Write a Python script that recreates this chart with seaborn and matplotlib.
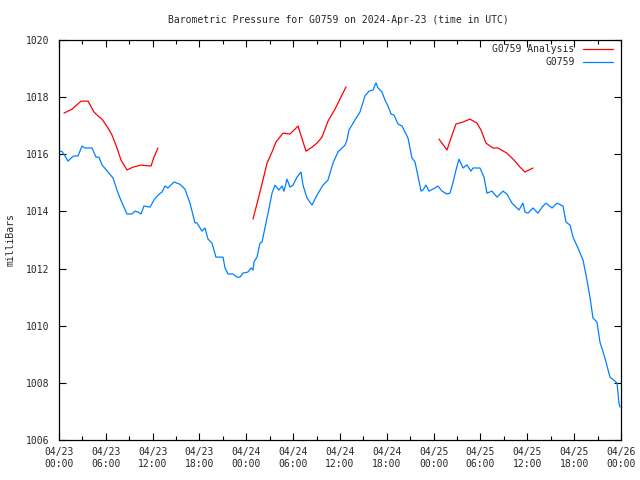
import pandas as pd
import matplotlib
matplotlib.use("Agg")
import matplotlib.pyplot as plt
import matplotlib.dates as mdates
import seaborn as sns

# Station observations (hours after 2024-04-23 00:00 UTC, pressure in mb)
obs_hours = [0.0, 0.38, 0.77, 1.15, 1.67, 1.92, 2.43, 2.95, 3.33, 4.23, 4.74, 5.12, 5.51,
             6.28, 6.92, 7.43, 7.81, 8.2, 8.71, 9.35, 9.74, 10.12, 10.5, 10.89, 11.66,
             12.17, 12.68, 13.2, 13.58, 13.96, 14.73, 15.5, 16.14, 16.78, 17.42, 17.68,
             18.32, 18.7, 19.09, 19.6, 20.11, 21.01, 21.27, 21.65, 22.29, 22.8, 23.19,
             23.57, 24.21, 24.6, 24.85, 25.0, 25.37, 25.75, 26.01, 26.52, 26.9, 27.29,
             27.67, 28.18, 28.57, 28.82, 29.21, 29.59, 29.98, 30.49, 31.0, 31.26, 31.77,
             32.41, 33.05, 33.82, 34.46, 35.1, 35.74, 36.64, 36.89, 37.15, 37.92, 38.56,
             39.2, 39.71, 40.23, 40.61, 40.87, 41.38, 41.76, 42.15, 42.53, 42.92, 43.43,
             43.94, 44.32, 44.71, 45.22, 45.61, 45.99, 46.38, 46.63, 47.02, 47.4, 48.17,
             48.55, 49.07, 49.71, 50.09, 50.47, 50.86, 51.24, 51.76, 52.27, 52.78, 53.04,
             53.93, 54.45, 54.83, 55.47, 56.11, 56.88, 57.39, 58.03, 58.55, 58.93, 59.44,
             59.7, 60.08, 60.72, 61.36, 61.88, 62.39, 63.16, 63.8, 64.57, 64.95, 65.47,
             65.85, 66.49, 67.13, 67.64, 68.02, 68.41, 68.92, 69.3, 69.94, 70.59, 71.23,
             71.49, 71.74, 71.87]
obs_mb = [1016.1, 1016.1, 1015.94, 1015.76, 1015.9, 1015.94, 1015.94, 1016.29, 1016.22,
          1016.22, 1015.9, 1015.9, 1015.63, 1015.38, 1015.17, 1014.75, 1014.47, 1014.22,
          1013.91, 1013.91, 1014.01, 1013.98, 1013.91, 1014.19, 1014.15, 1014.4, 1014.57,
          1014.68, 1014.89, 1014.82, 1015.03, 1014.95, 1014.78, 1014.29, 1013.6, 1013.6,
          1013.31, 1013.42, 1013.03, 1012.89, 1012.4, 1012.4, 1012.02, 1011.81, 1011.81,
          1011.7, 1011.7, 1011.84, 1011.88, 1012.02, 1011.95, 1012.25, 1012.4, 1012.89,
          1012.93, 1013.6, 1014.1, 1014.64, 1014.92, 1014.75, 1014.89, 1014.71, 1015.13,
          1014.85, 1014.92, 1015.2, 1015.38, 1014.92, 1014.47, 1014.22, 1014.57, 1014.92,
          1015.1, 1015.69, 1016.08, 1016.32, 1016.5, 1016.85, 1017.2, 1017.48, 1018.04,
          1018.21, 1018.25, 1018.5, 1018.32, 1018.18, 1017.9, 1017.69, 1017.41, 1017.37,
          1017.06, 1016.99, 1016.78, 1016.57, 1015.87, 1015.73, 1015.24, 1014.71, 1014.75,
          1014.92, 1014.71, 1014.82, 1014.89, 1014.71, 1014.61, 1014.64, 1015.0, 1015.45,
          1015.83, 1015.52, 1015.63, 1015.41, 1015.52, 1015.52, 1015.2, 1014.64, 1014.71,
          1014.5, 1014.71, 1014.61, 1014.29, 1014.15, 1014.05, 1014.29, 1013.98, 1013.94,
          1014.12, 1013.94, 1014.15, 1014.29, 1014.12, 1014.29, 1014.19, 1013.63, 1013.52,
          1013.1, 1012.72, 1012.3, 1011.6, 1011.0, 1010.27, 1010.13, 1009.43, 1008.87,
          1008.2, 1008.06, 1007.99, 1007.29, 1007.15]

# Analysis runs (three 12-hour windows)
ana_hours = [0.64, 1.67, 2.82, 3.72, 4.48, 5.0, 5.51, 6.28, 6.79, 7.43, 7.94, 8.71, 9.48,
             10.5, 11.79, 12.17, 12.68,
             24.85, 25.49, 26.13, 26.65, 27.29, 27.8, 28.7, 29.59, 30.23, 30.62, 31.64,
             32.41, 33.05, 33.69, 34.46, 35.36, 36.77,
             48.68, 49.71, 50.35, 50.86, 51.76, 52.65, 53.55, 54.06, 54.7, 55.6, 56.24,
             57.39, 58.42, 59.06, 59.7, 60.72]
ana_mb = [1017.44, 1017.58, 1017.86, 1017.86, 1017.48, 1017.34, 1017.23, 1016.92, 1016.67,
          1016.22, 1015.8, 1015.45, 1015.55, 1015.62, 1015.59, 1015.9, 1016.22,
          1013.73, 1014.4, 1015.1, 1015.69, 1016.08, 1016.43, 1016.74, 1016.71, 1016.88,
          1016.99, 1016.11, 1016.25, 1016.39, 1016.6, 1017.16, 1017.58, 1018.36,
          1016.53, 1016.15, 1016.67, 1017.06, 1017.13, 1017.23, 1017.09, 1016.85, 1016.39,
          1016.22, 1016.22, 1016.04, 1015.76, 1015.55, 1015.38, 1015.52]
ana_run = [1] * 17 + [2] * 17 + [3] * 16

start = pd.Timestamp("2024-04-23 00:00")
obs = pd.DataFrame({"time": start + pd.to_timedelta(obs_hours, unit="h"), "mb": obs_mb})
ana = pd.DataFrame({"time": start + pd.to_timedelta(ana_hours, unit="h"), "mb": ana_mb,
                    "run": ana_run})

sns.set_style("ticks")
plt.rcParams["font.family"] = ["DejaVu Sans Mono"]
plt.rcParams["font.size"] = 7

fig = plt.figure(figsize=(6.4, 4.8), dpi=100)
ax = fig.add_axes([59 / 640, 40 / 480, 562 / 640, 400 / 480])

# one line per analysis run so the gaps stay open
for i, (run, seg) in enumerate(ana.groupby("run")):
    sns.lineplot(data=seg, x="time", y="mb", color="#ff0000", linewidth=0.9,
                 label="G0759 Analysis" if i == 0 else None, ax=ax)
sns.lineplot(data=obs, x="time", y="mb", color="#0080ff", linewidth=0.9,
             label="G0759", ax=ax)

ax.set_xlim(start, start + pd.Timedelta(hours=72))
ax.set_ylim(1006, 1020)
ax.set_yticks(range(1006, 1021, 2))
ax.xaxis.set_major_locator(mdates.HourLocator(byhour=[0, 6, 12, 18]))
ax.xaxis.set_minor_locator(mdates.HourLocator(byhour=range(0, 24, 3)))
ax.xaxis.set_major_formatter(mdates.DateFormatter("%m/%d\n%H:%M"))
ax.tick_params(which="both", direction="in", top=True, right=True, color="black",
               labelsize=7, width=0.8)
ax.tick_params(which="major", length=5, pad=5)
ax.tick_params(which="minor", length=3)
ax.tick_params(axis="y", pad=7)
for s in ax.spines.values():
    s.set_linewidth(0.9)
    s.set_color("black")
ax.set_xlabel("")
ax.set_ylabel("")

fig.text(338 / 640, 1 - 20 / 480, "Barometric Pressure for G0759 on 2024-Apr-23 (time in UTC)",
         ha="center", va="center", fontsize=7)
fig.text(11 / 640, 0.5, "milliBars", rotation=90, ha="center", va="center", fontsize=7)

handles, labels = ax.get_legend_handles_labels()
keep = [labels.index("G0759 Analysis"), labels.index("G0759")]
ax.legend([handles[k] for k in keep], [labels[k] for k in keep],
          loc="upper right", bbox_to_anchor=(0.985, 0.99), frameon=False,
          markerfirst=False, handlelength=3.0, handletextpad=0.9, labelspacing=0.35,
          borderpad=0, borderaxespad=0, fontsize=7)

fig.savefig("out.png", dpi=100)
